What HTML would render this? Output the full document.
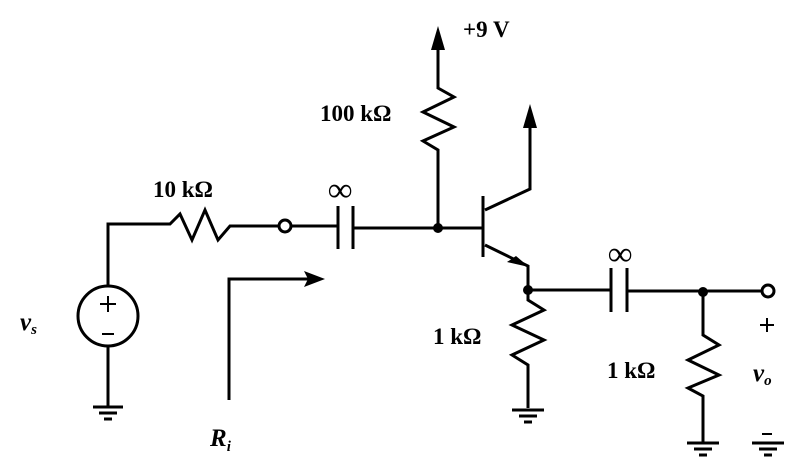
<!DOCTYPE html>
<html><head><style>
html,body{margin:0;padding:0;background:#fff;}
svg{display:block;}
text{font-family:"Liberation Serif",serif;font-weight:bold;fill:#000;}
</style></head><body>
<svg width="812" height="468" viewBox="0 0 812 468" xmlns="http://www.w3.org/2000/svg">
<g fill="none" stroke="#000" stroke-width="3" stroke-linejoin="miter">
<circle cx="108" cy="316" r="30"/>
<polyline points="108,286 108,224 170,224 180,214 192,240 205,210 218,240 230,226 279,226"/>
<line x1="108" y1="346" x2="108" y2="407"/>
<line x1="93" y1="407" x2="123" y2="407"/>
<line x1="99" y1="413" x2="117" y2="413"/>
<line x1="104" y1="419" x2="112" y2="419"/>
<circle cx="285" cy="226" r="6"/>
<line x1="291" y1="226" x2="338" y2="226"/>
<line x1="338" y1="206" x2="338" y2="249"/>
<line x1="353" y1="206" x2="353" y2="249"/>
<line x1="353" y1="228" x2="483" y2="228"/>
<polyline points="229,400 229,279 310,279"/>
<polyline points="438,40 438,88 454,97 423,112 454,127 423,141 438,150 438,228"/>
<line x1="483" y1="196" x2="483" y2="257"/>
<polyline points="485,210 530,189 530,115"/>
<polyline points="485,245 528,266 528,290"/>
<polyline points="528,290 528,300 544,310 512,325 544,340 512,355 528,365 528,408"/>
<line x1="512" y1="410" x2="544" y2="410"/>
<line x1="519" y1="416" x2="537" y2="416"/>
<line x1="524" y1="422" x2="532" y2="422"/>
<line x1="528" y1="290" x2="611" y2="290"/>
<line x1="611" y1="268" x2="611" y2="312"/>
<line x1="627" y1="268" x2="627" y2="312"/>
<line x1="627" y1="291" x2="762" y2="291"/>
<circle cx="768" cy="291" r="6"/>
<polyline points="703,291 703,335 719,345 688,360 719,375 688,388 703,396 703,442"/>
<line x1="687" y1="443" x2="719" y2="443"/>
<line x1="694" y1="449" x2="712" y2="449"/>
<line x1="699" y1="455" x2="707" y2="455"/>
<line x1="752" y1="443" x2="784" y2="443"/>
<line x1="759" y1="449" x2="777" y2="449"/>
<line x1="764" y1="455" x2="772" y2="455"/>
<line x1="762" y1="434" x2="772" y2="434" stroke-width="2"/>
<line x1="100" y1="304" x2="116" y2="304" stroke-width="2"/>
<line x1="108" y1="296" x2="108" y2="312" stroke-width="2"/>
<line x1="102" y1="334" x2="114" y2="334" stroke-width="2"/>
<line x1="760" y1="325" x2="774" y2="325" stroke-width="2"/>
<line x1="767" y1="318" x2="767" y2="332" stroke-width="2"/>
</g>
<g fill="#000">
<circle cx="438" cy="228" r="5"/>
<circle cx="528" cy="290" r="5"/>
<circle cx="703" cy="292" r="5"/>
<polygon points="438,26 431,50 445,50"/>
<polygon points="530,104 523,128 537,128"/>
<polygon points="325,279 304,271 308,279 304,287"/>
<polygon points="529,267 507,262 516,256"/>
</g>
<text x="153" y="197" font-size="23">10 kΩ</text>
<text x="328" y="201" font-size="34">∞</text>
<text x="608" y="265" font-size="34">∞</text>
<text x="320" y="121" font-size="23">100 kΩ</text>
<text x="463" y="37" font-size="23">+9 V</text>
<text x="433" y="344" font-size="23">1 kΩ</text>
<text x="607" y="378" font-size="23">1 kΩ</text>
<text x="20" y="330" font-size="25" font-style="italic">v<tspan font-size="15" dy="4">s</tspan></text>
<text x="753" y="381" font-size="25" font-style="italic">v<tspan font-size="15" dy="4">o</tspan></text>
<text x="210" y="446" font-size="25" font-style="italic">R<tspan font-size="15" dy="5">i</tspan></text>
</svg>
</body></html>
